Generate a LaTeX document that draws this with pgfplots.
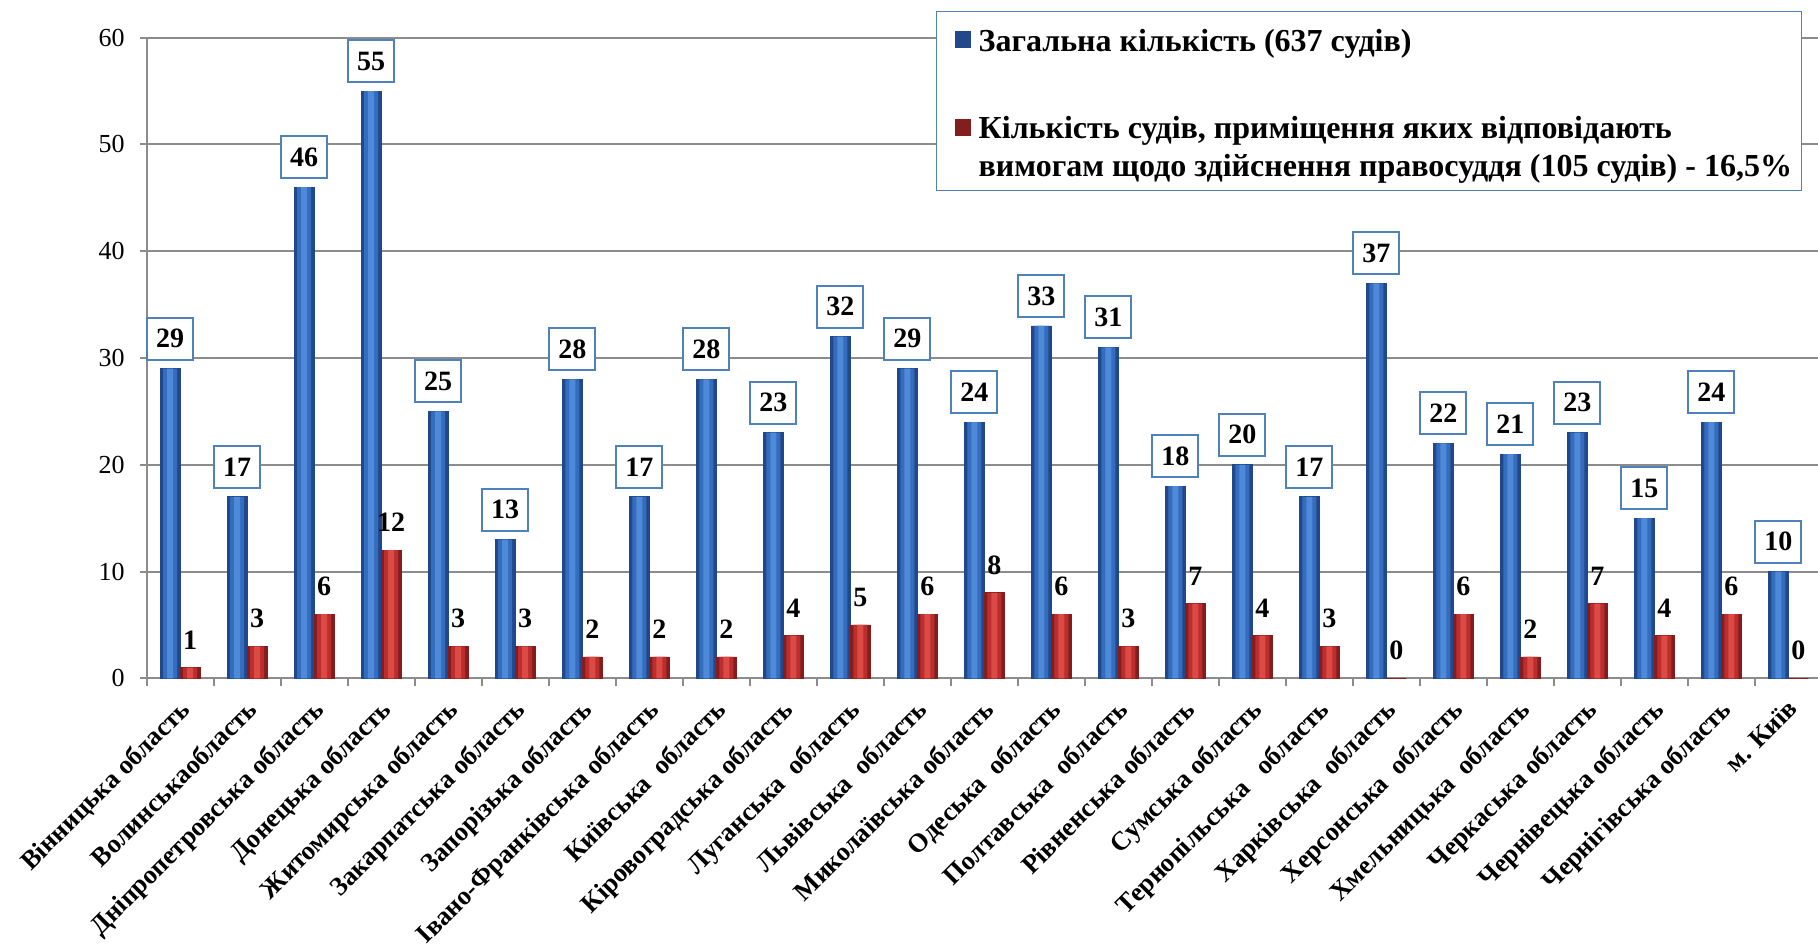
\documentclass[border=0pt]{standalone}
\usepackage{fontspec}
\setmainfont{Liberation Serif}
\usepackage{pgfplots}
\usepackage{pgfplotstable}
\pgfplotsset{compat=1.18}

\definecolor{blueedge}{RGB}{34,72,140}
\definecolor{bluemid}{RGB}{52,108,190}
\definecolor{bluelight}{RGB}{78,138,215}
\definecolor{rededge}{RGB}{132,30,30}
\definecolor{redmid}{RGB}{188,46,46}
\definecolor{redlight}{RGB}{220,74,70}
\definecolor{boxblue}{RGB}{79,129,189}
\definecolor{gridgray}{RGB}{140,140,140}

% total courts / courts whose premises meet the requirements
\pgfplotstableread{
idx total ok
0 29 1
1 17 3
2 46 6
3 55 12
4 25 3
5 13 3
6 28 2
7 17 2
8 28 2
9 23 4
10 32 5
11 29 6
12 24 8
13 33 6
14 31 3
15 18 7
16 20 4
17 17 3
18 37 0
19 22 6
20 21 2
21 23 7
22 15 4
23 24 6
24 10 0
}\courts

\begin{document}
\begin{tikzpicture}
\useasboundingbox (-73.35pt,-133.85pt) rectangle (835.65pt,339.15pt);
\begin{axis}[
  at={(0pt,0pt)}, anchor=south west,
  scale only axis, width=837.6pt, height=320.3pt,
  ybar, bar width=10pt,
  xmin=-0.5, xmax=24.5, ymin=0, ymax=60,
  axis x line*=bottom, axis y line*=left,
  axis line style={gridgray, line width=1pt},
  xtick={0,...,24},
  xticklabels={Вінницька область, Волинськаобласть, Дніпропетровська область,
    Донецька область, Житомирська область, Закарпатська область,
    Запорізька область, Івано-Франківська область, Київська\ \ область,
    Кіровоградська область, Луганська\ \ область, Львівська\ \ область,
    Миколаївська область, Одеська\ \ область, Полтавська\ \ область,
    Рівненська область, Сумська область, Тернопільська\ \ \ область,
    Харківська\ \ область, Херсонська\ \ область, Хмельницька\ \ область,
    Черкаська область, Чернівецька область, Чернігівська область, м. Київ},
  minor xtick={-0.5,0.5,...,24.5},
  major x tick style={draw=none},
  minor x tick style={gridgray, line width=1pt},
  ytick={0,10,...,60},
  y tick style={gridgray, line width=1pt},
  tick align=outside,
  major tick length=3.5pt, minor tick length=4pt,
  ymajorgrids, grid style={gridgray, line width=1pt},
  /pgf/number format/assume math mode=true,
  yticklabel style={font=\fontsize{13}{15}\selectfont, xshift=-4pt},
  xticklabel style={font=\bfseries\fontsize{13.2}{16}\selectfont,
    xshift=-1pt, yshift=-6pt, rotate=45, anchor=north east, inner sep=0pt},
  legend style={at={(axis description cs:0.4712,1.0417)}, anchor=north west,
    draw=boxblue, line width=0.6pt, fill=white,
    inner sep=0pt, row sep=0pt, column sep=0pt,
    cells={anchor=base west},
    nodes={inner sep=0pt, text depth=, text height=},
    font=\bfseries\fontsize{16}{18.7}\selectfont},
  legend image code/.code={\path[draw=none, fill=none] (0pt,0pt) -- (21pt,0pt);
    \fill[#1, draw=none] (9pt,1.5pt) rectangle (17.3pt,10pt);},
]
% total courts: dark edges with a lighter core
\addplot[draw=blueedge, line width=0.4pt, fill=blueedge, bar shift=-5pt,
  nodes near coords,
  every node near coord/.append style={text=black,
    font=\bfseries\fontsize{14}{16}\selectfont,
    draw=boxblue, line width=1pt, fill=white,
    minimum width=23pt, minimum height=21pt, inner sep=1pt, yshift=4pt}]
  table[x=idx, y=total] {\courts};
\addlegendentry{\rule[-31.8pt]{0pt}{51.65pt}Загальна кількість (637 судів)}
\addplot[draw=none, fill=bluemid, bar width=7pt, bar shift=-5pt, forget plot]
  table[x=idx, y=total] {\courts};
\addplot[draw=none, fill=bluelight, bar width=3pt, bar shift=-5pt, forget plot]
  table[x=idx, y=total] {\courts};

% courts that meet the requirements
\addplot[draw=rededge, line width=0.4pt, fill=rededge, bar shift=5pt,
  nodes near coords,
  every node near coord/.append style={text=black,
    font=\bfseries\fontsize{14}{16}\selectfont,
    inner sep=2pt, yshift=7pt}]
  table[x=idx, y=ok] {\courts};
\addlegendentry{\rule[-6.7pt]{0pt}{18.7pt}Кількість судів, приміщення яких відповідають}
\addplot[draw=none, fill=redmid, bar width=7pt, bar shift=5pt, forget plot]
  table[x=idx, y=ok] {\courts};
\addplot[draw=none, fill=redlight, bar width=3pt, bar shift=5pt, forget plot]
  table[x=idx, y=ok] {\courts};

\addlegendimage{empty legend}
\addlegendentry{\rule[-7.15pt]{0pt}{19.15pt}вимогам щодо здійснення правосуддя (105 судів) - 16,5\%\hspace*{4.9pt}}
\end{axis}
\end{tikzpicture}
\end{document}
